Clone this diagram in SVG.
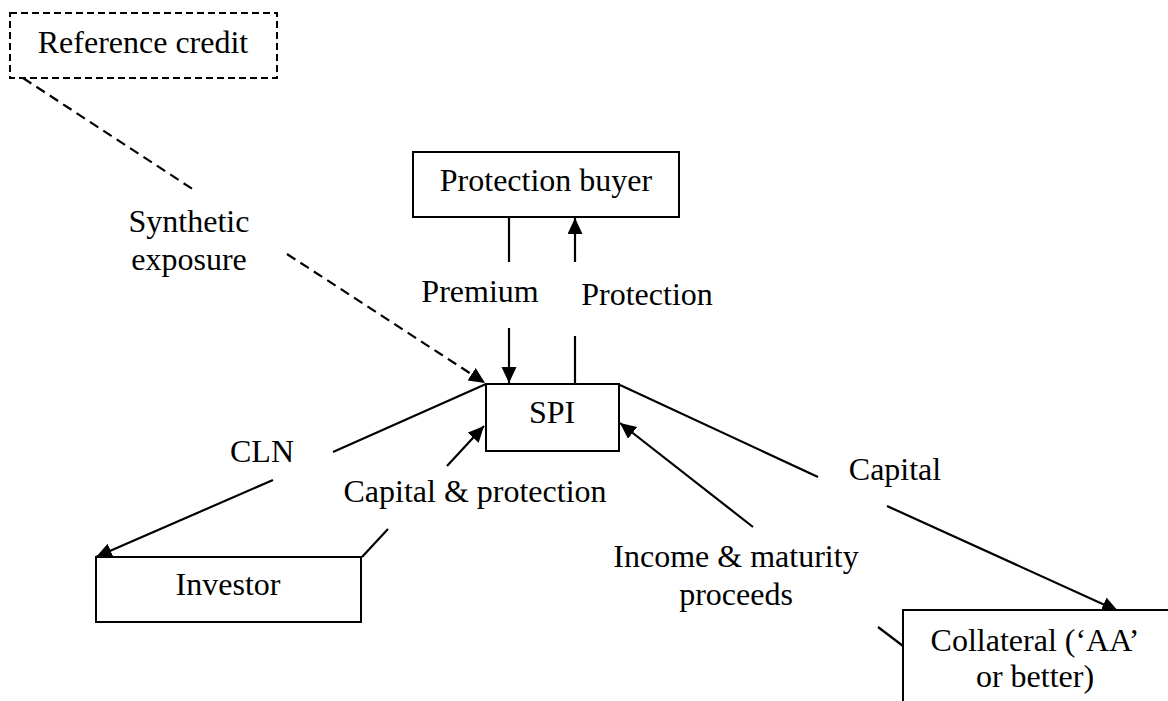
<svg xmlns="http://www.w3.org/2000/svg" width="1168" height="701" viewBox="0 0 1168 701">
<style>
text{font-family:"Liberation Serif","Times New Roman",serif;font-size:32px;fill:#000;text-anchor:middle}
.box{fill:#fff;stroke:#000;stroke-width:2}
.dbox{fill:#fff;stroke:#000;stroke-width:2;stroke-dasharray:7,4}
.c{stroke:#000;stroke-width:2.2;fill:none}
.d{stroke:#000;stroke-width:2.2;fill:none;stroke-dasharray:10,6}
.a{marker-end:url(#ah)}
</style>
<defs>
<marker id="ah" markerUnits="userSpaceOnUse" markerWidth="18" markerHeight="16" refX="16" refY="7.5" orient="auto">
<path d="M0,0 L16,7.5 L0,15 z" fill="#000"/>
</marker>
</defs>
<rect width="1168" height="701" fill="#fff"/>
<g id="connectors">
<line class="d" x1="23" y1="78" x2="197" y2="192"/>
<line class="d a" x1="287" y1="254" x2="485" y2="383"/>
<line class="c" x1="509" y1="217" x2="509" y2="262"/>
<line class="c a" x1="509" y1="328" x2="509" y2="383"/>
<line class="c" x1="575" y1="389" x2="575" y2="336"/>
<line class="c a" x1="575" y1="262" x2="575" y2="218"/>
<line class="c" x1="486" y1="384" x2="333" y2="452"/>
<line class="c a" x1="273" y1="480" x2="96" y2="557"/>
<line class="c" x1="362" y1="557" x2="388" y2="529"/>
<line class="c a" x1="447" y1="466" x2="484" y2="426"/>
<line class="c" x1="620" y1="385" x2="818" y2="477"/>
<line class="c a" x1="887" y1="506" x2="1118" y2="611"/>
<line class="c a" x1="753" y1="527" x2="620" y2="423"/>
<line class="c" x1="878" y1="627" x2="903" y2="646"/>
</g>
<g id="reference-credit">
<rect class="dbox" x="10" y="13" width="267" height="65"/>
<text x="143" y="53">Reference credit</text>
</g>
<g id="synthetic-label">
<text x="189" y="232">Synthetic</text>
<text x="189" y="270">exposure</text>
</g>
<g id="protection-buyer">
<rect class="box" x="413" y="152" width="266" height="65"/>
<text x="546" y="191">Protection buyer</text>
</g>
<g id="premium-label"><text x="480" y="302">Premium</text></g>
<g id="protection-label"><text x="647" y="305">Protection</text></g>
<g id="spi">
<rect class="box" x="486" y="384" width="133" height="67"/>
<text x="552" y="423">SPI</text>
</g>
<g id="cln-label"><text x="262" y="462">CLN</text></g>
<g id="capital-protection-label"><text x="475" y="502">Capital &amp; protection</text></g>
<g id="capital-label"><text x="895" y="480">Capital</text></g>
<g id="income-label">
<text x="736" y="567">Income &amp; maturity</text>
<text x="736" y="605">proceeds</text>
</g>
<g id="investor">
<rect class="box" x="96" y="557" width="265" height="65"/>
<text x="228" y="595">Investor</text>
</g>
<g id="collateral">
<rect class="box" x="903" y="610" width="280" height="110"/>
<text x="1035" y="651">Collateral (‘AA’</text>
<text x="1035" y="687">or better)</text>
</g>
</svg>
